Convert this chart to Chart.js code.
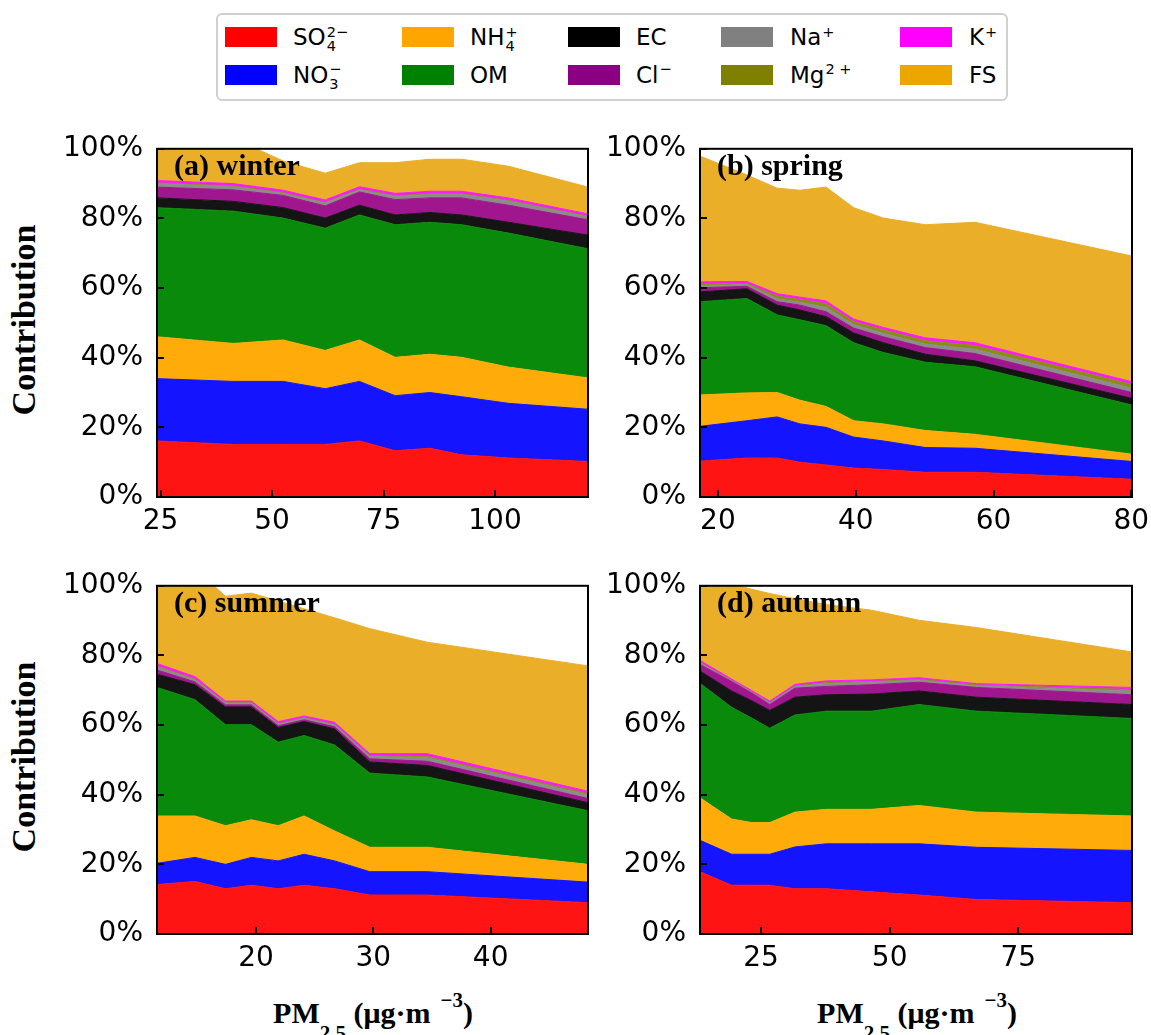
<!DOCTYPE html>
<html>
<head>
<meta charset="utf-8">
<script src="https://cdn.jsdelivr.net/npm/chart.js@4.4.1/dist/chart.umd.min.js"></script>
<style>
  html, body { margin: 0; padding: 0; background: #fff; }
  body { width: 1151px; height: 1035px; position: relative; overflow: hidden; }
  canvas { position: absolute; }
  .legend-box { position: absolute; left: 216px; top: 13px; width: 788px; height: 84px;
    border: 2px solid #d0d0d0; border-radius: 6px; }
  .patch { position: absolute; width: 52px; height: 20px; }
  .lbl { position: absolute; font: 23px "DejaVu Sans"; line-height: 1; white-space: nowrap; color: #000; }
  .ss { display: inline-block; position: relative; line-height: 1; }
  .ss .sp { font-size: 14.5px; position: relative; top: -8.5px; margin-left: 1px; }
  .ss .sb { font-size: 14.5px; position: absolute; left: 1px; top: 13px; }
  .tag { position: absolute; font: bold 30px "Liberation Serif"; line-height: 1; white-space: nowrap; }
  .ytitle { position: absolute; left: 24px; font: bold 34px "Liberation Serif"; line-height: 1;
    white-space: nowrap; transform: translate(-50%, -50%) rotate(-90deg); }
  .xtitle { position: absolute; top: 998px; font: bold 30px "Liberation Serif"; line-height: 1;
    white-space: nowrap; transform: translateX(-50%); }
  .xtitle .xsub { font-size: 21px; position: relative; top: 17px; }
  .xtitle .xsup { font-size: 21px; position: relative; top: -16px; margin-left: 10px; }
</style>
</head>
<body>
<div class="legend-box"></div>
<div class="ytitle" style="top:320px">Contribution</div>
<div class="ytitle" style="top:757px">Contribution</div>
<div class="xtitle" style="left:373px">PM<span class="xsub">2.5</span> (μg·m<span class="xsup">−3</span>)</div>
<div class="xtitle" style="left:917px">PM<span class="xsub">2.5</span> (μg·m<span class="xsup">−3</span>)</div>
<script>
// species in stacking order (bottom -> top)
const speciesBase = ['SO', 'NO', 'NH', 'OM', 'EC', 'Cl', 'Na', 'Mg', 'K', 'FS'];
const speciesSub  = ['4', '3', '4', '', '', '', '', '', '', ''];
const speciesSup  = ['2\u2212', '\u2212', '+', '', '', '\u2212', '+', '2 +', '+', ''];

const yTicks = [0, 20, 40, 60, 80, 100];

// winter: PM2.5 bins and share of each component (%)
const winterTicks = [25, 50, 75, 100];
const winterPM  = [24.2, 41.3, 52.5, 61.9, 69.6, 77.6, 85.4, 92.5, 103.0, 120.85];
const winterSO4 = [16.1, 15.1, 15.1, 15.1, 16.1, 13.3, 14.0, 12.1, 11.2, 10.2];
const winterNO3 = [17.9, 18.1, 18.1, 16.0, 17.1, 15.8, 16.0, 16.7, 15.7, 15.0];
const winterNH4 = [12.0, 10.9, 11.9, 11.0, 11.9, 11.0, 11.0, 11.3, 10.4, 9.0];
const winterOM  = [37.1, 38.0, 35.0, 35.1, 35.9, 38.1, 37.9, 38.1, 38.5, 37.1];
const winterEC  = [2.8, 2.8, 3.0, 2.9, 2.8, 2.8, 2.8, 2.8, 3.1, 3.9];
const winterCl  = [3.1, 3.3, 3.5, 3.5, 3.8, 4.4, 4.2, 4.9, 4.9, 4.4];
const winterNa  = [1.0, 0.9, 0.6, 0.8, 0.6, 0.9, 1.0, 1.0, 1.2, 0.8];
const winterMg  = [0.2, 0.2, 0.2, 0.2, 0.2, 0.2, 0.2, 0.2, 0.2, 0.2];
const winterK   = [0.7, 0.7, 0.7, 0.7, 0.7, 0.7, 0.7, 0.7, 0.7, 0.7];
const winterFS  = [10.1, 13.0, 8.4, 7.7, 6.9, 8.8, 9.2, 9.2, 9.1, 7.7];

// spring
const springTicks = [20, 40, 60, 80];
const springPM  = [17.4, 24.2, 28.6, 31.9, 35.7, 39.7, 44.0, 50.1, 57.3, 80.1];
const springSO4 = [10.3, 11.2, 11.2, 10.0, 9.2, 8.3, 7.9, 7.1, 7.1, 5.1];
const springNO3 = [10.0, 10.7, 11.8, 11.0, 10.8, 8.9, 8.2, 7.1, 6.9, 5.1];
const springNH4 = [9.0, 8.0, 7.0, 6.8, 6.0, 4.7, 4.9, 4.9, 4.0, 2.1];
const springOM  = [26.8, 27.1, 22.3, 23.1, 23.2, 22.4, 20.5, 19.6, 19.4, 14.1];
const springEC  = [2.8, 2.8, 2.8, 2.8, 2.6, 2.8, 2.8, 2.3, 1.7, 1.9];
const springCl  = [1.2, 0.7, 1.0, 1.4, 1.4, 1.4, 1.7, 1.9, 2.1, 1.7];
const springNa  = [0.6, 0.5, 0.8, 0.8, 1.2, 1.0, 1.0, 1.0, 1.2, 1.2];
const springMg  = [0.5, 0.3, 0.8, 0.8, 1.1, 0.9, 1.0, 1.0, 1.1, 1.1];
const springK   = [0.6, 0.6, 0.7, 0.7, 0.8, 0.7, 0.7, 0.8, 0.8, 0.8];
const springFS  = [36.1, 30.6, 30.3, 30.7, 32.7, 32.0, 31.4, 32.5, 34.6, 36.1];

// summer
const summerTicks = [20, 30, 40];
const summerPM  = [11.56, 14.8, 17.4, 19.6, 21.9, 24.1, 26.7, 29.7, 34.6, 48.3];
const summerSO4 = [14.2, 15.1, 13.0, 14.0, 13.0, 14.0, 13.0, 11.2, 11.2, 9.0];
const summerNO3 = [6.1, 6.9, 7.0, 8.0, 8.0, 8.9, 8.0, 6.7, 6.7, 5.9];
const summerNH4 = [13.6, 11.9, 11.1, 10.8, 10.1, 11.0, 8.6, 7.0, 7.0, 5.1];
const summerOM  = [36.9, 33.4, 29.0, 27.3, 24.0, 23.1, 24.7, 21.3, 20.2, 15.4];
const summerEC  = [3.8, 4.3, 5.1, 5.1, 4.2, 4.0, 4.6, 3.2, 3.3, 2.3];
const summerCl  = [1.2, 0.8, 0.6, 0.6, 0.5, 0.5, 0.6, 0.9, 1.2, 1.2];
const summerNa  = [0.8, 0.6, 0.5, 0.5, 0.5, 0.5, 0.6, 0.7, 1.0, 1.0];
const summerMg  = [0.3, 0.2, 0.1, 0.1, 0.1, 0.1, 0.1, 0.2, 0.4, 0.4];
const summerK   = [0.8, 0.7, 0.5, 0.5, 0.6, 0.5, 0.6, 0.6, 0.8, 0.7];
const summerFS  = [24.3, 31.1, 30.1, 31.0, 34.6, 30.8, 30.0, 35.9, 32.0, 36.0];

// autumn
const autumnTicks = [25, 50, 75];
const autumnPM  = [13.15, 19.3, 23.2, 26.7, 31.6, 37.7, 46.5, 55.7, 66.9, 97.1];
const autumnSO4 = [17.9, 14.0, 14.0, 14.0, 13.0, 13.0, 12.1, 11.2, 9.9, 9.0];
const autumnNO3 = [9.0, 8.9, 8.9, 8.9, 12.0, 12.9, 13.8, 14.7, 15.0, 15.0];
const autumnNH4 = [12.2, 10.1, 9.1, 9.1, 10.0, 9.9, 9.9, 11.0, 10.1, 9.9];
const autumnOM  = [32.9, 32.1, 30.0, 27.1, 27.9, 28.2, 28.2, 29.0, 29.0, 28.0];
const autumnEC  = [3.5, 4.7, 5.0, 5.1, 5.1, 4.7, 4.9, 3.9, 4.0, 4.0];
const autumnCl  = [1.9, 2.7, 2.2, 1.7, 2.6, 2.4, 2.7, 2.5, 2.8, 2.8];
const autumnNa  = [0.4, 0.2, 0.2, 0.4, 0.5, 0.8, 0.7, 0.6, 0.5, 1.1];
const autumnMg  = [0.2, 0.1, 0.1, 0.1, 0.1, 0.3, 0.2, 0.2, 0.2, 0.4];
const autumnK   = [0.6, 0.4, 0.4, 0.5, 0.5, 0.5, 0.5, 0.5, 0.4, 0.6];
const autumnFS  = [23.4, 27.3, 29.1, 30.9, 24.6, 21.9, 20.0, 16.5, 16.1, 10.2];

// colours: area fills and legend patches
const fillColors = ['#ff1414', '#1414ff', '#ffab0a', '#0a8a0a', '#141414',
                    '#a0168e', '#8c8c8c', '#8c8c14', '#ff19ff', '#ebae28'];
const patchColors = ['#ff0000', '#0000ff', '#ffa500', '#008000', '#000000',
                     '#8b0083', '#808080', '#808000', '#ff00ff', '#eba600'];

const panels = [
  { tag: '(a) winter', pm: winterPM, ticks: winterTicks, box: [157, 143, 588, 497],
    shares: [winterSO4, winterNO3, winterNH4, winterOM, winterEC, winterCl, winterNa, winterMg, winterK, winterFS] },
  { tag: '(b) spring', pm: springPM, ticks: springTicks, box: [700, 143, 1132, 497],
    shares: [springSO4, springNO3, springNH4, springOM, springEC, springCl, springNa, springMg, springK, springFS] },
  { tag: '(c) summer', pm: summerPM, ticks: summerTicks, box: [157, 580, 588, 934],
    shares: [summerSO4, summerNO3, summerNH4, summerOM, summerEC, summerCl, summerNa, summerMg, summerK, summerFS] },
  { tag: '(d) autumn', pm: autumnPM, ticks: autumnTicks, box: [700, 580, 1132, 934],
    shares: [autumnSO4, autumnNO3, autumnNH4, autumnOM, autumnEC, autumnCl, autumnNa, autumnMg, autumnK, autumnFS] }
];

// legend, 5 columns x 2 rows, filled column by column
const legendPatchX = [225, 402, 568, 721, 900];
const legendTextX = [293, 470, 636, 790, 969];
const legendPatchY = [27, 65];
const legendTextY = [26, 63.5];

function labelHtml(i) {
  let html = speciesBase[i];
  if (speciesSub[i] || speciesSup[i]) {
    html += '<span class="ss"><span class="sp">' + (speciesSup[i] || '') + '</span>' +
            (speciesSub[i] ? '<span class="sb">' + speciesSub[i] + '</span>' : '') + '</span>';
  }
  return html;
}

speciesBase.forEach((_, i) => {
  const col = Math.floor(i / 2), row = i % 2;
  const patch = document.createElement('div');
  patch.className = 'patch';
  patch.style.left = legendPatchX[col] + 'px';
  patch.style.top = legendPatchY[row] + 'px';
  patch.style.background = patchColors[i];
  document.body.appendChild(patch);
  const lbl = document.createElement('div');
  lbl.className = 'lbl';
  lbl.style.left = legendTextX[col] + 'px';
  lbl.style.top = legendTextY[row] + 'px';
  lbl.innerHTML = labelHtml(i);
  document.body.appendChild(lbl);
});

// black frame plus inward ticks on the left and bottom spines
const framePlugin = {
  id: 'frame',
  afterDatasetsDraw(chart) {
    const { ctx, chartArea: a, scales } = chart;
    ctx.save();
    ctx.strokeStyle = '#000';
    ctx.lineWidth = 2;
    ctx.beginPath();
    scales.y.ticks.forEach(t => {
      const y = Math.round(scales.y.getPixelForValue(t.value));
      ctx.moveTo(a.left, y);
      ctx.lineTo(a.left + 7, y);
    });
    scales.x.ticks.forEach(t => {
      const x = Math.round(scales.x.getPixelForValue(t.value));
      ctx.moveTo(x, a.bottom);
      ctx.lineTo(x, a.bottom - 7);
    });
    ctx.stroke();
    ctx.strokeRect(a.left, a.top, a.right - a.left, a.bottom - a.top);
    ctx.restore();
  }
};

const tickFont = { family: 'DejaVu Sans', size: 28 };
const padL = 110, padT = 25, padR = 30, padB = 50;

panels.forEach(p => {
  const [L, T, R, B] = p.box;
  const cv = document.createElement('canvas');
  cv.width = R - L + padL + padR;
  cv.height = B - T + padT + padB;
  cv.style.left = (L - padL) + 'px';
  cv.style.top = (T - padT) + 'px';
  document.body.appendChild(cv);

  const tag = document.createElement('div');
  tag.className = 'tag';
  tag.textContent = p.tag;
  tag.style.left = (L + 17) + 'px';
  tag.style.top = (T + 7) + 'px';
  document.body.appendChild(tag);

  new Chart(cv, {
    type: 'line',
    data: {
      datasets: p.shares.map((vals, i) => ({
        label: speciesBase[i],
        data: vals.map((v, j) => ({ x: p.pm[j], y: v })),
        backgroundColor: fillColors[i],
        borderColor: fillColors[i],
        borderWidth: 1,
        fill: i === 0 ? 'origin' : '-1',
        pointRadius: 0,
        tension: 0,
        clip: 0
      }))
    },
    options: {
      responsive: false,
      animation: false,
      events: [],
      layout: { padding: { left: 0, top: padT, right: padR, bottom: 0 } },
      plugins: { legend: { display: false }, tooltip: { enabled: false } },
      scales: {
        x: {
          type: 'linear',
          min: p.pm[0],
          max: p.pm[p.pm.length - 1],
          grid: { display: false, drawTicks: false },
          border: { display: false },
          ticks: { font: tickFont, color: '#000', padding: 8, maxRotation: 0, autoSkip: false },
          afterBuildTicks: s => { s.ticks = p.ticks.map(v => ({ value: v })); },
          afterFit: s => { s.height = padB; }
        },
        y: {
          stacked: true,
          min: 0,
          max: 100,
          grid: { display: false, drawTicks: false },
          border: { display: false },
          ticks: { font: tickFont, color: '#000', padding: 14, callback: v => v + '%' },
          afterBuildTicks: s => { s.ticks = yTicks.map(v => ({ value: v })); },
          afterFit: s => { s.width = padL; }
        }
      }
    },
    plugins: [framePlugin]
  });
});
</script>
</body>
</html>
